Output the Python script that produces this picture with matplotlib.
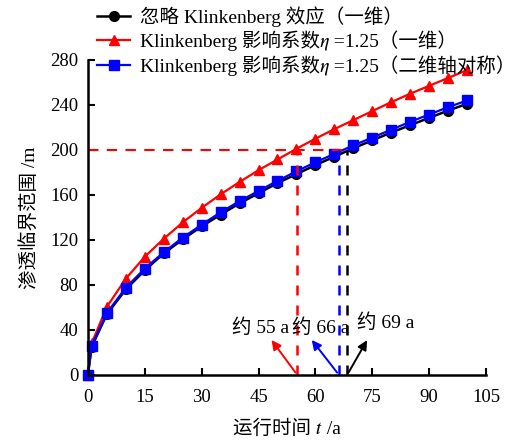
import matplotlib
matplotlib.use("Agg")
import matplotlib.pyplot as plt

# STIXGeneral ships with matplotlib and has the italic math letters
plt.rcParams['font.family'] = ['Liberation Serif', 'Noto Sans CJK SC', 'STIXGeneral']

# data
t = [0, 1, 5, 10, 15, 20, 25, 30, 35, 40, 45, 50, 55, 60, 65, 70, 75, 80, 85, 90, 95, 100]
r_ignore = [0, 25, 54, 76, 93, 108, 120.5, 132, 142.5, 152.5, 161.5, 170.5, 178.5, 186.5, 194, 201.5, 208.5, 215.5, 222, 228.5, 235, 241]
r_eta_1d = [0, 28, 60.5, 85.5, 105, 121, 135.5, 148.5, 160.5, 171.5, 182, 191.5, 201, 210, 218.5, 226.5, 234.5, 242.5, 250, 257, 264, 271]
r_eta_2d = [0, 26, 55, 77.5, 94.5, 109, 122, 133.5, 144.5, 154.5, 163.5, 172.5, 181, 189, 196.5, 204, 211, 218, 225, 231.5, 238, 244]

labels = ['忽略 Klinkenberg 效应（一维）',
          'Klinkenberg 影响系数\U0001D702 =1.25（一维）',
          'Klinkenberg 影响系数\U0001D702 =1.25（二维轴对称）']

# times where the range reaches 200 m
t_cross = [55.2, 66.2, 68.4]
r_target = 200
notes = ['约 55 a', '约 66 a', '约 69 a']

fig = plt.figure(figsize=(5.17, 4.41), dpi=100)
ax = fig.add_axes([0.170, 0.150, 0.770, 0.714])

ax.plot(t, r_ignore, '-o', color='black', lw=1.8, ms=7, label=labels[0], clip_on=False)
ax.plot(t, r_eta_1d, '-^', color='red', lw=1.6, ms=7, label=labels[1], clip_on=False)
ax.plot(t, r_eta_2d, '-s', color='blue', lw=1.6, ms=7, label=labels[2], clip_on=False)

# guide lines
ax.plot([0, t_cross[2]], [r_target, r_target], '--', color='red', lw=1.5, dashes=(5, 4))
for tc, c in zip(t_cross, ['red', 'blue', 'black']):
    ax.plot([tc, tc], [0, r_target], '--', color=c, lw=1.8, dashes=(4, 4))

# arrows + notes
arrow_tips = [(48, 33), (58.6, 33), (74, 33)]
note_pos = [(45.5, 42), (61.5, 42), (78.5, 46)]
for tc, tip, c, txt, pos in zip(t_cross, arrow_tips, ['red', 'blue', 'black'], notes, note_pos):
    ax.annotate('', xy=tip, xytext=(tc, 0),
                arrowprops=dict(arrowstyle='-|>', color=c, lw=1.4, mutation_scale=14))
    ax.text(pos[0], pos[1], txt, fontsize=14, ha='center', va='center')

ax.set_xlim(0, 105)
ax.set_ylim(0, 280)
ax.set_xticks(range(0, 106, 15))
ax.set_yticks(range(0, 281, 40))
ax.tick_params(direction='in', length=5, width=1.5, labelsize=13.5)
ax.tick_params(axis='x', pad=10)
ax.tick_params(axis='y', pad=7)
for s in ['top', 'right']:
    ax.spines[s].set_visible(False)
for s in ['left', 'bottom']:
    ax.spines[s].set_linewidth(1.8)

ax.set_xlabel('运行时间 \U0001D461 /a', fontsize=14, labelpad=10)
ax.set_ylabel('渗透临界范围 /m', fontsize=14, labelpad=8)

fig.legend(loc='upper left', bbox_to_anchor=(97 / 517, 1 - 6 / 441), frameon=False,
           fontsize=14, handlelength=1.7, handletextpad=0.5, labelspacing=0.2,
           borderpad=0, borderaxespad=0)

fig.savefig('out.png', dpi=100)
